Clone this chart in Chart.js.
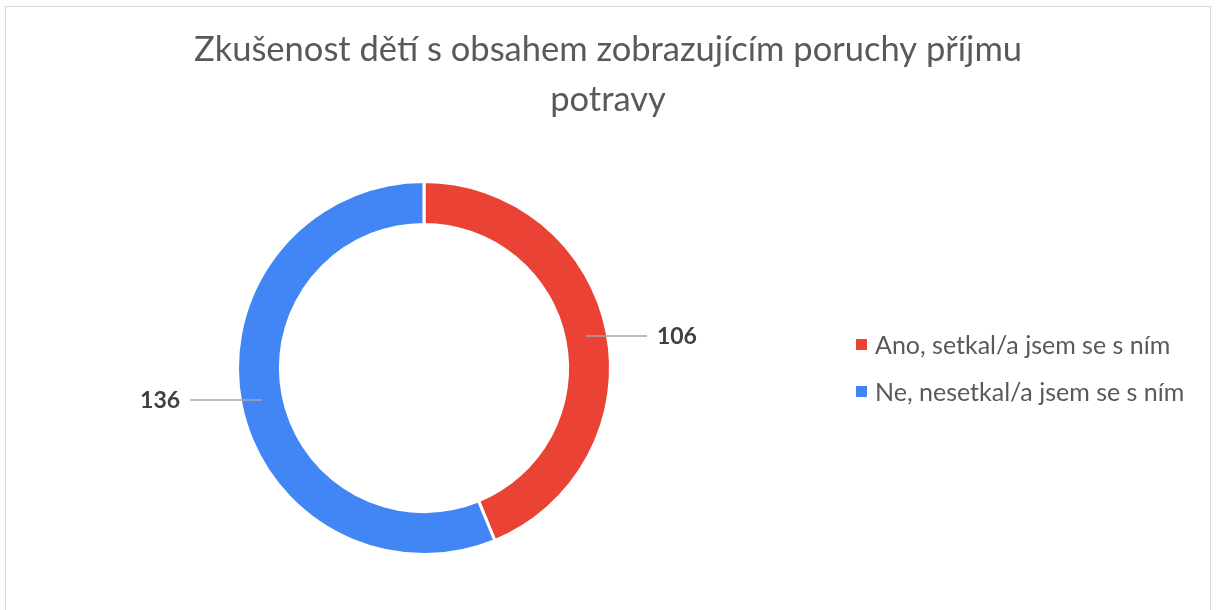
<!DOCTYPE html>
<html lang="cs">
<head>
<meta charset="utf-8">
<script src="https://cdn.jsdelivr.net/npm/chart.js@4/dist/chart.umd.min.js"></script>
<style>
    html, body { margin: 0; padding: 0; background: #fff; overflow: hidden; }
    #frame {
        position: absolute; left: 5px; top: 6px; width: 1204px; height: 640px;
        border: 1px solid #d9d9d9; background: #fff;
    }
    #chartBox { position: absolute; left: 0; top: 0; width: 1204px; height: 603px; }
</style>
</head>
<body>
<div id="frame"><div id="chartBox"><canvas id="donut"></canvas></div></div>
<script>
// Data
const titleLines = ['Zkušenost dětí s obsahem zobrazujícím poruchy příjmu', 'potravy'];
const categories = ['Ano, setkal/a jsem se s ním', 'Ne, nesetkal/a jsem se s ním'];
const counts = [106, 136];
const sliceColors = ['#EA4335', '#4285F4'];

// delka vodicich car u popisku
const leaderLen = [61, 72];

// Plugin pro popisky hodnot s vodici carou
const leaderLabels = {
    id: 'leaderLabels',
    afterDatasetsDraw(chart) {
        const ctx = chart.ctx;
        const meta = chart.getDatasetMeta(0);
        meta.data.forEach((arc, i) => {
            const mid = (arc.startAngle + arc.endAngle) / 2;
            const r = (arc.innerRadius + arc.outerRadius) / 2;
            const x0 = arc.x + Math.cos(mid) * r;
            const y0 = arc.y + Math.sin(mid) * r;
            const dir = Math.cos(mid) >= 0 ? 1 : -1;
            const x1 = x0 + dir * leaderLen[i];
            ctx.save();
            ctx.strokeStyle = '#a6a6a6';
            ctx.lineWidth = 1.5;
            ctx.beginPath();
            ctx.moveTo(x0, y0);
            ctx.lineTo(x1, y0);
            ctx.stroke();
            ctx.fillStyle = '#404040';
            ctx.font = 'bold 23px Lato';
            ctx.textBaseline = 'middle';
            ctx.textAlign = dir > 0 ? 'left' : 'right';
            ctx.fillText(String(counts[i]), x1 + dir * 10, y0 + 1);
            ctx.restore();
        });
    }
};

// Nadpis pres celou sirku platna (ne jen nad oblasti grafu)
const wideTitle = {
    id: 'wideTitle',
    afterDraw(chart) {
        const ctx = chart.ctx;
        ctx.save();
        ctx.font = '34.5px Lato';
        ctx.fillStyle = '#595959';
        ctx.textAlign = 'center';
        ctx.textBaseline = 'middle';
        titleLines.forEach((line, i) => {
            ctx.fillText(line, chart.width / 2, 43 + i * 50);
        });
        ctx.restore();
    }
};

// Legenda vpravo, svisle na stred kruhu
const sideLegend = {
    id: 'sideLegend',
    afterDraw(chart) {
        const ctx = chart.ctx;
        const area = chart.chartArea;
        const cy = (area.top + area.bottom) / 2;
        const step = 47;
        const x = 850;
        ctx.save();
        ctx.font = '25px Lato';
        ctx.textBaseline = 'middle';
        ctx.textAlign = 'left';
        categories.forEach((label, i) => {
            const y = cy + (i - (categories.length - 1) / 2) * step;
            ctx.fillStyle = sliceColors[i];
            ctx.fillRect(x, y - 5.5, 11, 11);
            ctx.fillStyle = '#595959';
            ctx.fillText(label, x + 19, y + 1);
        });
        ctx.restore();
    }
};

const chart = new Chart(document.getElementById('donut'), {
    type: 'doughnut',
    data: {
        labels: categories,
        datasets: [{
            data: counts,
            backgroundColor: sliceColors,
            borderColor: '#ffffff',
            borderWidth: 3,
            hoverOffset: 0
        }]
    },
    options: {
        responsive: true,
        maintainAspectRatio: false,
        animation: false,
        cutout: '77%',
        layout: { padding: { left: 0, right: 368, top: 173, bottom: 54 } },
        plugins: {
            title: { display: false },
            legend: { display: false },
            tooltip: { enabled: false }
        }
    },
    plugins: [leaderLabels, wideTitle, sideLegend]
});
</script>
</body>
</html>
